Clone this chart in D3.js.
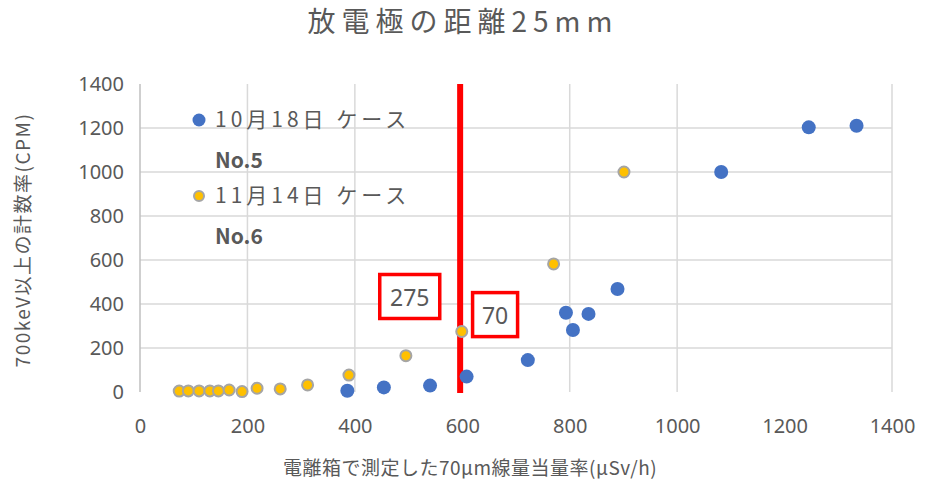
<!DOCTYPE html>
<html>
<head>
<meta charset="utf-8">
<script src="https://cdn.jsdelivr.net/npm/d3@7"></script>
<style>
  html, body { margin: 0; padding: 0; background: #fff; }
  svg { display: block; }
  text { font-family: "Noto Sans CJK JP", "Noto Sans", sans-serif; fill: #595959; }
</style>
</head>
<body>
<svg id="chart" width="933" height="488"></svg>
<script>
// Series: 10月18日 ケース No.5 (blue)
const caseNo5X = [386, 454, 540, 608, 722, 793, 806, 835, 889, 1082, 1245, 1334];
const caseNo5Y = [6, 21, 29, 70, 145, 360, 282, 355, 468, 1000, 1203, 1210];
// Series: 11月14日 ケース No.6 (orange)
const caseNo6X = [73, 90, 110, 130, 146, 166, 190, 218, 261, 312, 389, 495, 599, 770, 901];
const caseNo6Y = [4, 5, 5, 5, 5, 9, 2, 17, 14, 32, 77, 165, 275, 582, 1000];

const xTicks = [0, 200, 400, 600, 800, 1000, 1200, 1400];
const yTicks = [0, 200, 400, 600, 800, 1000, 1200, 1400];
const xGrid = [200, 400, 600, 800, 1000, 1400];
const yGrid = [200, 400, 600, 800, 1000, 1200];

const thresholdX = 596;            // red reference line
const calloutValues = [275, 70];    // values called out in boxes

const titleText = "放電極の距離25mm";
const xTitle = "電離箱で測定した70μm線量当量率(μSv/h)";
const yTitle = "700keV以上の計数率(CPM)";
const legendLabels = [["10月18日 ケース", "No.5"], ["11月14日 ケース", "No.6"]];

const svg = d3.select("#chart");
const x = d3.scaleLinear().domain([0, 1400]).range([140, 892]);
const y = d3.scaleLinear().domain([0, 1400]).range([392, 84]);

// gridlines
svg.append("g").selectAll("line").data(yGrid).join("line")
  .attr("x1", x(0)).attr("x2", x(1400))
  .attr("y1", d => y(d)).attr("y2", d => y(d))
  .attr("stroke", "#d9d9d9").attr("stroke-width", 1.5);
svg.append("g").selectAll("line").data(xGrid).join("line")
  .attr("x1", d => x(d)).attr("x2", d => x(d))
  .attr("y1", y(0)).attr("y2", y(1400))
  .attr("stroke", "#d9d9d9").attr("stroke-width", 1.5);
svg.append("line")
  .attr("x1", x(0)).attr("x2", x(0)).attr("y1", y(0)).attr("y2", y(1400))
  .attr("stroke", "#bfbfbf").attr("stroke-width", 1.5);

// axes (labels only)
const fmt = d3.format("d");
const xAxis = svg.append("g").attr("transform", `translate(0,${y(0) + 27})`)
  .call(d3.axisBottom(x).tickValues(xTicks).tickFormat(fmt).tickSize(0).tickPadding(0));
const yAxis = svg.append("g").attr("transform", `translate(${x(0) - 16},0)`)
  .call(d3.axisLeft(y).tickValues(yTicks).tickFormat(fmt).tickSize(0).tickPadding(0));
[xAxis, yAxis].forEach(g => {
  g.select(".domain").remove();
  g.selectAll("text").attr("font-size", 20).attr("fill", "#595959")
    .style("font-family", "'Noto Sans', sans-serif");
});

// threshold line
svg.append("line")
  .attr("x1", x(thresholdX)).attr("x2", x(thresholdX))
  .attr("y1", y(1400)).attr("y2", y(0) + 1)
  .attr("stroke", "#ff0000").attr("stroke-width", 6);

// points
const no6 = caseNo6X.map((v, i) => ({ x: v, y: caseNo6Y[i] }));
const no5 = caseNo5X.map((v, i) => ({ x: v, y: caseNo5Y[i] }));
svg.append("g").selectAll("circle").data(no6).join("circle")
  .attr("cx", d => x(d.x)).attr("cy", d => y(d.y)).attr("r", 5.5)
  .attr("fill", "#ffc000").attr("stroke", "#a5a5a5").attr("stroke-width", 2);
svg.append("g").selectAll("circle").data(no5).join("circle")
  .attr("cx", d => x(d.x)).attr("cy", d => y(d.y)).attr("r", 7)
  .attr("fill", "#4472c4");

// callout boxes for the threshold-adjacent points
const calloutPts = [
  { p: no6.find(d => d.y === calloutValues[0]), dx: -82, dy: -57, w: 60, h: 44 },
  { p: no5.find(d => d.y === calloutValues[1]), dx: 6, dy: -84, w: 45, h: 44 }
];
const callouts = svg.append("g").selectAll("g").data(calloutPts).join("g")
  .attr("transform", d => `translate(${x(d.p.x) + d.dx},${y(d.p.y) + d.dy})`);
callouts.append("rect")
  .attr("width", d => d.w).attr("height", d => d.h)
  .attr("fill", "#fff").attr("stroke", "#ff0000").attr("stroke-width", 3.5);
callouts.append("text")
  .attr("x", d => d.w / 2).attr("y", d => d.h / 2 + 9)
  .attr("text-anchor", "middle").attr("font-size", 23)
  .style("font-family", "'Noto Sans', sans-serif").attr("fill", "#404040")
  .text(d => d.p.y);

// legend
const legend = svg.append("g");
const legendItems = [
  { label: legendLabels[0], fill: "#4472c4", stroke: "none", r: 6.5, cy: 120 },
  { label: legendLabels[1], fill: "#ffc000", stroke: "#a5a5a5", r: 5, cy: 196 }
];
legendItems.forEach(it => {
  legend.append("circle").attr("cx", 199).attr("cy", it.cy).attr("r", it.r)
    .attr("fill", it.fill).attr("stroke", it.stroke).attr("stroke-width", 2);
  legend.append("text").attr("x", 215).attr("y", it.cy + 7)
    .attr("font-size", 21).attr("letter-spacing", 4).text(it.label[0]);
  legend.append("text").attr("x", 215).attr("y", it.cy + 48)
    .attr("font-size", 21).attr("font-weight", "bold").text(it.label[1]);
});

// titles
svg.append("text").attr("x", 463).attr("y", 32).attr("text-anchor", "middle")
  .attr("font-size", 28).attr("letter-spacing", 6).text(titleText);
svg.append("text").attr("x", 470).attr("y", 475).attr("text-anchor", "middle")
  .attr("font-size", 19).attr("letter-spacing", 0.5).text(xTitle);
svg.append("text").attr("transform", "translate(30,240) rotate(-90)")
  .attr("text-anchor", "middle").attr("font-size", 19).attr("letter-spacing", 1.5).text(yTitle);
</script>
</body>
</html>
